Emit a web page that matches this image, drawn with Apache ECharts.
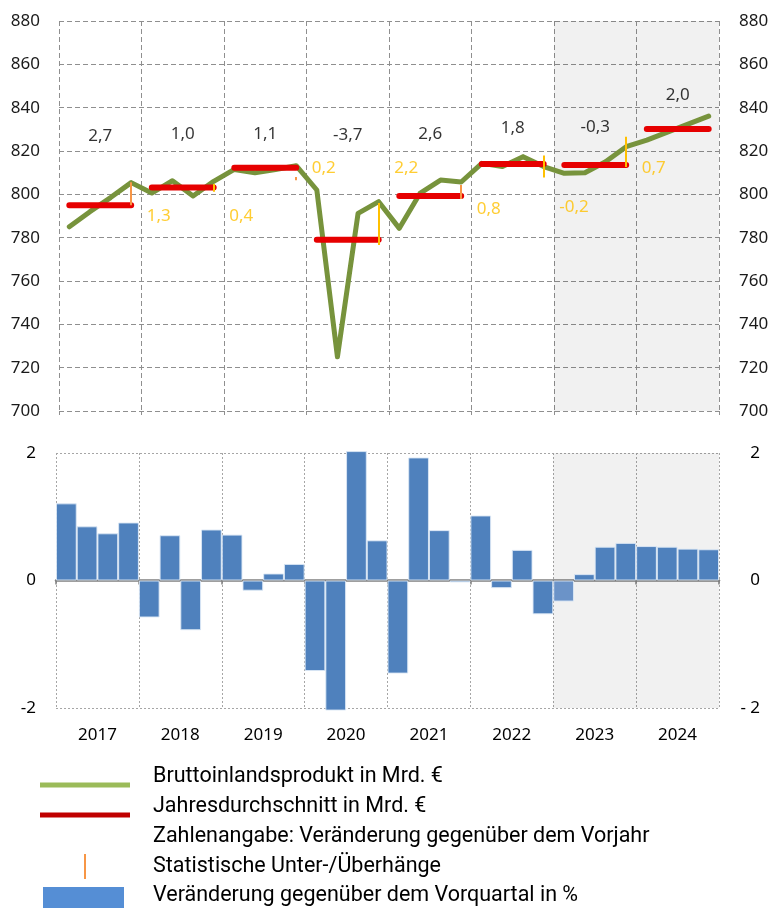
<!DOCTYPE html>
<html>
<head>
<meta charset="utf-8">
<script src="https://cdn.jsdelivr.net/npm/echarts@6/dist/echarts.min.js"></script>
<style>
  html, body { margin: 0; padding: 0; background: #fff; }
  #chart { width: 772px; height: 910px; }
</style>
</head>
<body>
<div id="chart"></div>
<script>
// Jahre und Quartale
var years = ['2017', '2018', '2019', '2020', '2021', '2022', '2023', '2024'];
var quarters = [];
for (var y = 0; y < years.length; y++) {
    for (var q = 1; q <= 4; q++) quarters.push(years[y] + ' Q' + q);
}

// Bruttoinlandsprodukt in Mrd. € (Quartalswerte)
var gdp = [785, 792, 798.5, 805.4, 800.6, 806.3, 799.2, 806,
           811.5, 810, 811.5, 813.2, 802, 725, 791.2, 796.6,
           784.3, 800.4, 806.6, 805.7, 814.3, 812.8, 817.4, 812.8,
           809.7, 810, 815, 822, 825, 828.7, 832.4, 836.1];
// Jahresdurchschnitt in Mrd. €
var annualAvg = [795, 803.2, 812.3, 779, 799.2, 814, 813.5, 830.1];
// Veränderung gegenüber dem Vorjahr (Zahlenangabe) und Höhe der Beschriftung
var yoyChange = [2.7, 1.0, 1.1, -3.7, 2.6, 1.8, -0.3, 2.0];
var yoyLabelAt = [827, 828, 828, 827.5, 828, 830.5, 831, 846];
// Statistische Unter-/Überhänge (für 2018 ... 2024), Beschriftungshöhe, Strichenden
var overhang = [1.3, 0.4, 0.2, 2.2, 0.8, -0.2, 0.7];
var overhangLabelAt = [789.7, 789.7, 812, 812, 793, 794.3, 812];
var overhangFrom = [795, 801.2, 806.5, 776.6, 797.8, 807.8, 812.6];
var overhangTo = [805.6, 804.8, 808, 796, 804.3, 817.9, 826.6];
var overhangColors = ['#f79646', '#ffc000', '#f79646', '#ffc000', '#f79646', '#ffc000', '#ffc000'];
// Veränderung gegenüber dem Vorquartal in %
var qoq = [1.21, 0.85, 0.74, 0.91, -0.58, 0.71, -0.78, 0.80,
           0.72, -0.16, 0.11, 0.26, -1.42, -2.04, 2.03, 0.63,
           -1.46, 1.93, 0.79, -0.03, 1.02, -0.12, 0.48, -0.53,
           -0.33, 0.10, 0.53, 0.59, 0.54, 0.53, 0.50, 0.49];
// Prognosezeitraum
var forecastFrom = '2023', forecastTo = '2024';

function fmt(v) {
    return v.toFixed(1).replace('.', ',');
}

var numFont = '"Noto Sans", sans-serif';
var legendFont = 'Roboto, "Noto Sans", sans-serif';

// Jahresdurchschnitt: zwei Reihen, damit die Jahre nicht verbunden werden
var avgOdd = [], avgEven = [];
for (var i = 0; i < quarters.length; i++) {
    var yi = Math.floor(i / 4);
    avgOdd.push(yi % 2 === 0 ? annualAvg[yi] : null);
    avgEven.push(yi % 2 === 1 ? annualAvg[yi] : null);
}

var overhangLines = [];
var overhangLabels = [];
for (var k = 0; k < overhang.length; k++) {
    var q4 = quarters[k * 4 + 3];
    overhangLines.push([
        { coord: [q4, overhangFrom[k]], lineStyle: { color: overhangColors[k] } },
        { coord: [q4, overhangTo[k]] }
    ]);
    overhangLabels.push([quarters[(k + 1) * 4], overhangLabelAt[k], overhang[k]]);
}

var yoyLabels = [];
for (var j = 0; j < years.length; j++) {
    yoyLabels.push([years[j], yoyLabelAt[j], yoyChange[j]]);
}

var nulls = quarters.map(function () { return null; });
var yearNulls = years.map(function () { return null; });
var qoqData = qoq.map(function (v, i) {
    // erstes Prognosequartal heller
    if (i === years.indexOf(forecastFrom) * 4) {
        return { value: v, itemStyle: { color: '#6b93c8' } };
    }
    return v;
});

var dashed = { color: '#8f8f8f', type: [5, 3], width: 1 };
var dotted = { color: '#a6a6a6', type: [2, 2], width: 1 };
var shade = {
    silent: true,
    itemStyle: { color: 'rgba(0,0,0,0.055)' },
    data: [[{ xAxis: forecastFrom }, { xAxis: forecastTo }]]
};

var legendText = function (text, y) {
    return {
        type: 'text', x: 153, y: y,
        style: { text: text, fill: '#000', font: '21.5px ' + legendFont, verticalAlign: 'middle' }
    };
};

var option = {
    backgroundColor: '#fff',
    animation: false,
    grid: [
        { left: 59, right: 53, top: 21, height: 390 },
        { left: 56, right: 53, top: 453, height: 255 }
    ],
    xAxis: [
        { type: 'category', gridIndex: 0, data: quarters, show: false },
        {
            type: 'category', gridIndex: 0, data: years, position: 'bottom',
            axisLine: { show: false, onZero: false },
            axisTick: { show: true, length: 4, lineStyle: { color: '#8f8f8f' } },
            axisLabel: { show: false },
            splitLine: { show: true, lineStyle: dashed }
        },
        {
            type: 'category', gridIndex: 1, data: quarters, position: 'bottom',
            axisLine: { show: true, onZero: true, lineStyle: { color: '#808080', width: 2.5 } },
            axisTick: { show: true, interval: 3, length: 4, lineStyle: { color: '#808080', width: 1.5 } },
            axisLabel: { show: false },
            splitLine: { show: false }
        },
        {
            type: 'category', gridIndex: 1, data: years, position: 'bottom',
            axisLine: { show: false, onZero: false },
            axisTick: { show: false },
            axisLabel: { color: '#000', fontFamily: numFont, fontSize: 17, margin: 19 },
            splitLine: { show: true, lineStyle: dotted }
        }
    ],
    yAxis: [
        {
            type: 'value', gridIndex: 0, min: 700, max: 880, interval: 20, position: 'left',
            axisLine: { show: false }, axisTick: { show: false },
            axisLabel: { color: '#1a1a1a', fontFamily: numFont, fontSize: 17, margin: 19 },
            splitLine: { show: true, lineStyle: dashed }
        },
        {
            type: 'value', gridIndex: 0, min: 700, max: 880, interval: 20, position: 'right',
            axisLine: { show: false }, axisTick: { show: false },
            axisLabel: { color: '#1a1a1a', fontFamily: numFont, fontSize: 17, margin: 20 },
            splitLine: { show: false }
        },
        {
            type: 'value', gridIndex: 1, min: -2, max: 2, interval: 2, position: 'left',
            axisLine: { show: false }, axisTick: { show: false },
            axisLabel: { color: '#000', fontFamily: numFont, fontSize: 17, margin: 20 },
            splitLine: { show: true, lineStyle: dotted }
        },
        {
            type: 'value', gridIndex: 1, min: -2, max: 2, interval: 2, position: 'right',
            axisLine: { show: false }, axisTick: { show: false },
            axisLabel: {
                color: '#000', fontFamily: numFont, fontSize: 17, margin: 41, align: 'right',
                formatter: function (v) { return v < 0 ? '- ' + Math.abs(v) : String(v); }
            },
            splitLine: { show: false }
        }
    ],
    series: [
        {
            // Prognosezeitraum oben
            type: 'bar', xAxisIndex: 1, yAxisIndex: 0, data: yearNulls, z: 1,
            markArea: shade
        },
        {
            name: 'Bruttoinlandsprodukt in Mrd. €',
            type: 'line', xAxisIndex: 0, yAxisIndex: 0, data: gdp, z: 3,
            symbol: 'none',
            lineStyle: { color: '#77933c', width: 5, join: 'round', cap: 'round' }
        },
        {
            name: 'Jahresdurchschnitt in Mrd. €',
            type: 'line', xAxisIndex: 0, yAxisIndex: 0, data: avgOdd, z: 4,
            symbol: 'none', connectNulls: false,
            lineStyle: { color: '#e60000', width: 6, cap: 'round' }
        },
        {
            name: 'Jahresdurchschnitt in Mrd. €',
            type: 'line', xAxisIndex: 0, yAxisIndex: 0, data: avgEven, z: 4,
            symbol: 'none', connectNulls: false,
            lineStyle: { color: '#e60000', width: 6, cap: 'round' }
        },
        {
            name: 'Statistische Unter-/Überhänge',
            type: 'line', xAxisIndex: 0, yAxisIndex: 0, data: nulls, z: 5,
            symbol: 'none',
            markLine: {
                silent: true,
                symbol: 'none',
                label: { show: false },
                lineStyle: { type: 'solid', width: 2 },
                data: overhangLines
            }
        },
        {
            type: 'scatter', xAxisIndex: 0, yAxisIndex: 0, data: overhangLabels, z: 6,
            symbolSize: 0, silent: true,
            label: {
                show: true, position: 'inside', align: 'left', offset: [-5, 0],
                color: '#ffc000', fontFamily: numFont, fontSize: 17,
                formatter: function (p) { return fmt(p.value[2]); }
            }
        },
        {
            type: 'scatter', xAxisIndex: 1, yAxisIndex: 0, data: yoyLabels, z: 6,
            symbolSize: 0, silent: true,
            label: {
                show: true, position: 'inside',
                color: '#000', fontFamily: numFont, fontSize: 17,
                formatter: function (p) { return fmt(p.value[2]); }
            }
        },
        {
            // Prognosezeitraum unten
            type: 'bar', xAxisIndex: 3, yAxisIndex: 2, data: yearNulls, z: 1,
            markArea: shade
        },
        {
            name: 'Veränderung gegenüber dem Vorquartal in %',
            type: 'bar', xAxisIndex: 2, yAxisIndex: 2, data: qoqData, z: 3,
            barCategoryGap: '0%', clip: false,
            itemStyle: { color: '#4f81bd', borderColor: 'rgba(220,232,245,0.9)', borderWidth: 1 }
        }
    ],
    graphic: [
        { type: 'line', shape: { x1: 40, y1: 785, x2: 130, y2: 785 }, style: { stroke: '#9bbb59', lineWidth: 5 } },
        { type: 'line', shape: { x1: 40, y1: 815, x2: 130, y2: 815 }, style: { stroke: '#c00000', lineWidth: 5 } },
        { type: 'line', shape: { x1: 85, y1: 854, x2: 85, y2: 879 }, style: { stroke: '#f79646', lineWidth: 2 } },
        { type: 'rect', shape: { x: 43, y: 887, width: 81, height: 21 }, style: { fill: '#558ed5' } },
        legendText('Bruttoinlandsprodukt in Mrd. €', 777),
        legendText('Jahresdurchschnitt in Mrd. €', 807),
        legendText('Zahlenangabe: Veränderung gegenüber dem Vorjahr', 837),
        legendText('Statistische Unter-/Überhänge', 867),
        legendText('Veränderung gegenüber dem Vorquartal in %', 896)
    ]
};

var myChart = echarts.init(document.getElementById('chart'));
myChart.setOption(option);
</script>
</body>
</html>
